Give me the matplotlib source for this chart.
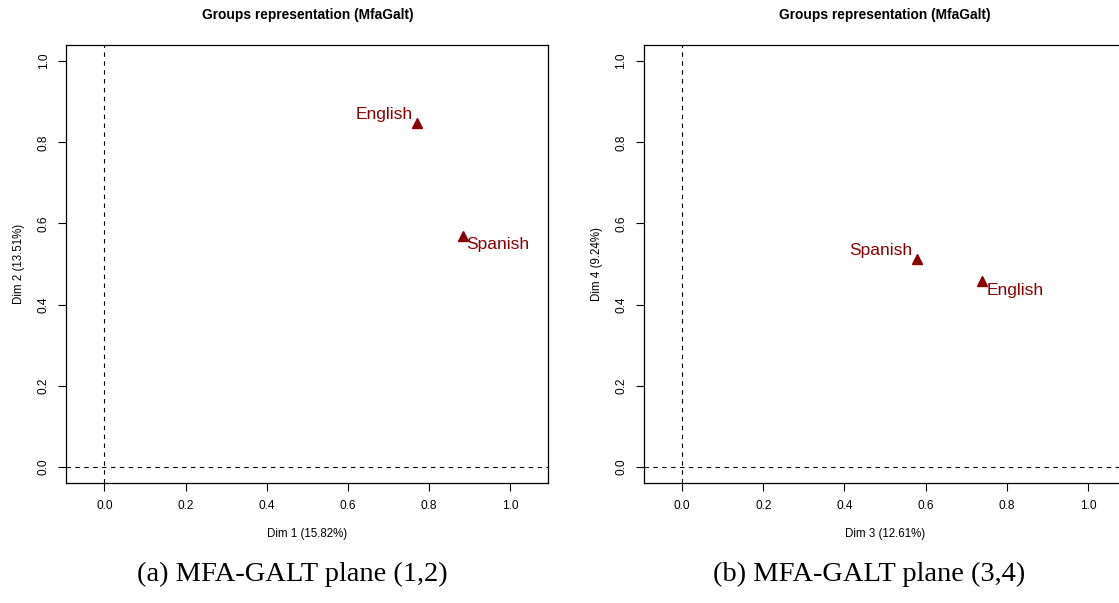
import matplotlib
matplotlib.use("Agg")
import matplotlib.pyplot as plt

# group coordinates on each MFA plane
groups_12 = ["English", "Spanish"]
dim1 = [0.771, 0.883]
dim2 = [0.848, 0.570]

groups_34 = ["Spanish", "English"]
dim3 = [0.579, 0.740]
dim4 = [0.512, 0.459]

ticks = [0.0, 0.2, 0.4, 0.6, 0.8, 1.0]
tick_labels = ["0.0", "0.2", "0.4", "0.6", "0.8", "1.0"]
title = "Groups representation (MfaGalt)"

plt.rcParams["font.family"] = ["Liberation Sans", "DejaVu Sans"]

W, H = 1119, 603
fig = plt.figure(figsize=(W / 100, H / 100), dpi=100)


def px_axes(x0, y0, x1, y1):
    return fig.add_axes([x0 / W, 1 - y1 / H, (x1 - x0) / W, (y1 - y0) / H])


def groups_plot(ax, x, y, names, offsets, xlab, ylab):
    ax.set_xlim(-0.094, 1.094)
    ax.set_ylim(-0.04, 1.04)
    ax.axhline(0, color="black", lw=0.8, ls=(0, (4, 4)))
    ax.axvline(0, color="black", lw=0.8, ls=(0, (4, 4)))
    ax.plot(x, y, ls="none", marker="^", ms=7.5, color="#8B0000", mec="#8B0000")
    for xi, yi, name, (dx, dy, ha) in zip(x, y, names, offsets):
        ax.annotate(name, (xi, yi), xytext=(dx, dy), textcoords="offset points",
                    ha=ha, va="center", color="#8B0000", fontsize=12.5)
    ax.set_xticks(ticks)
    ax.set_xticklabels(tick_labels)
    ax.set_yticks(ticks)
    ax.set_yticklabels(tick_labels, rotation=90, va="center")
    ax.tick_params(direction="out", length=5.5, width=0.8, pad=6.5,
                   labelsize=8.6, colors="black")
    for s in ax.spines.values():
        s.set_linewidth(0.9)
    ax.set_xlabel(xlab, fontsize=8.3, labelpad=12)
    ax.set_ylabel(ylab, fontsize=8.3, labelpad=9)
    ax.set_title(title, fontsize=9.9, fontweight="bold", pad=19)


ax1 = px_axes(66.3, 45, 548.3, 483)
groups_plot(ax1, dim1, dim2, groups_12,
            [(-3.2, 5.8, "right"), (2.5, -6.5, "left")],
            "Dim 1 (15.82%)", "Dim 2 (13.51%)")

ax2 = px_axes(644, 45, 1126, 483)
groups_plot(ax2, dim3, dim4, groups_34,
            [(-3.6, 6.2, "right"), (2.9, -7.0, "left")],
            "Dim 3 (12.61%)", "Dim 4 (9.24%)")

fig.text(292 / W, 1 - 574 / H, "(a) MFA-GALT plane (1,2)", ha="center", va="center",
         fontsize=20.5, family="Liberation Serif")
fig.text(869 / W, 1 - 574 / H, "(b) MFA-GALT plane (3,4)", ha="center", va="center",
         fontsize=20.5, family="Liberation Serif")

fig.savefig("out.png", dpi=100)
